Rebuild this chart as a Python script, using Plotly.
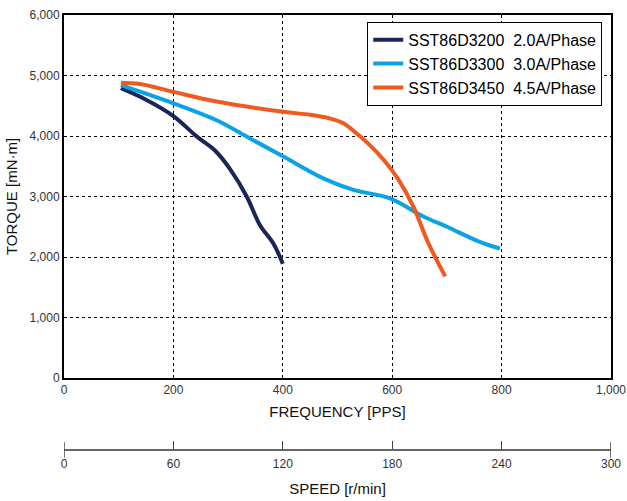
import plotly.graph_objects as go

# ---- data ----
freq_3200 = [104, 150, 200, 243, 276, 303, 334, 358, 383, 400]
torq_3200 = [4790, 4600, 4330, 3990, 3760, 3460, 3000, 2530, 2220, 1890]

freq_3300 = [104, 200, 279, 340, 401, 474, 529, 596, 657, 700, 760, 797]
torq_3300 = [4840, 4540, 4260, 3960, 3660, 3300, 3110, 2970, 2670, 2500, 2250, 2140]

freq_3450 = [104, 139, 200, 279, 401, 450, 486, 511, 535, 560, 585, 610, 639, 665, 697]
torq_3450 = [4880, 4860, 4730, 4570, 4400, 4350, 4290, 4210, 4040, 3840, 3600, 3300, 2830, 2250, 1680]

names = ["SST86D3200\u00a0\u00a02.0A/Phase", "SST86D3300\u00a0\u00a03.0A/Phase",
         "SST86D3450\u00a0\u00a04.5A/Phase"]
colors = ["#1b2557", "#0aa3e6", "#ee5a1f"]

x_ticks = [0, 200, 400, 600, 800, 1000]
x_ticklabels = ["0", "200", "400", "600", "800", "1,000"]
y_ticks = [0, 1000, 2000, 3000, 4000, 5000, 6000]
y_ticklabels = ["0", "1,000", "2,000", "3,000", "4,000", "5,000", "6,000"]
speed_ticks = [0, 60, 120, 180, 240, 300]

font_family = "Liberation Sans, Arial, sans-serif"

fig = go.Figure()
for fx, ty, nm, c in zip([freq_3200, freq_3300, freq_3450],
                         [torq_3200, torq_3300, torq_3450], names, colors):
    fig.add_trace(go.Scatter(x=fx, y=ty, mode="lines", name=nm,
                             line=dict(color=c, width=4, shape="spline", smoothing=1.0)))

# invisible trace for the speed axis
fig.add_trace(go.Scatter(x=[0, 300], y=[0, 0], xaxis="x2", yaxis="y",
                         mode="lines", line=dict(width=0), showlegend=False,
                         hoverinfo="skip", opacity=0))

t_px, b_px, H = 15, 25, 501
plot_h = H - t_px - b_px
dom_bottom = (H - b_px - 378) / plot_h
pos2 = (H - b_px - 450) / plot_h

fig.update_layout(
    width=627, height=501,
    margin=dict(l=64, r=16, t=t_px, b=b_px, autoexpand=False),
    paper_bgcolor="white", plot_bgcolor="white",
    font=dict(family=font_family, color="#222", size=12),
    showlegend=True,
    legend=dict(x=0.984, y=0.985, xanchor="right", yanchor="top",
                bordercolor="black", borderwidth=1, bgcolor="white",
                font=dict(size=16, color="#000", family=font_family),
                tracegroupgap=0, itemwidth=30),
    xaxis=dict(range=[0, 1000], tickvals=x_ticks, ticktext=x_ticklabels,
               showgrid=True, gridcolor="black", griddash="dot", gridwidth=1,
               showline=True, linecolor="black", linewidth=2, mirror=True,
               ticks="", zeroline=False, anchor="y", automargin=False,
               title=dict(text="FREQUENCY [PPS]", font=dict(size=15, color="#111"), standoff=10),
               tickfont=dict(size=12, color="#333")),
    yaxis=dict(range=[0, 6000], tickvals=y_ticks, ticktext=y_ticklabels,
               domain=[dom_bottom, 1], automargin=False,
               showgrid=True, gridcolor="black", griddash="dot", gridwidth=1,
               showline=True, linecolor="black", linewidth=2, mirror=True,
               ticks="", zeroline=False,
               title=dict(text="TORQUE [mN·m]", font=dict(size=15, color="#111"), standoff=8),
               tickfont=dict(size=12, color="#333")),
    xaxis2=dict(range=[0, 300], tickvals=speed_ticks, anchor="free", position=pos2,
                overlaying="x", side="bottom", automargin=False,
                showline=True, linecolor="#666", linewidth=1.5,
                ticks="inside", ticklen=8, tickcolor="#444", tickwidth=1,
                ticklabelstandoff=3,
                showgrid=False, zeroline=False,
                title=dict(text="SPEED [r/min]", font=dict(size=15, color="#111"), standoff=12),
                tickfont=dict(size=12, color="#333")),
)

# end caps of the speed axis (span both sides of the line)
for xv in [0, 300]:
    fig.add_shape(type="line", xref="x2", yref="paper", x0=xv, x1=xv,
                  y0=pos2 - 0.017, y1=pos2 + 0.017,
                  line=dict(color="#444", width=1.5))

fig.write_html("out.html", config={"displayModeBar": False},
               post_script="document.body.style.margin='0';document.body.style.overflow='hidden';")
